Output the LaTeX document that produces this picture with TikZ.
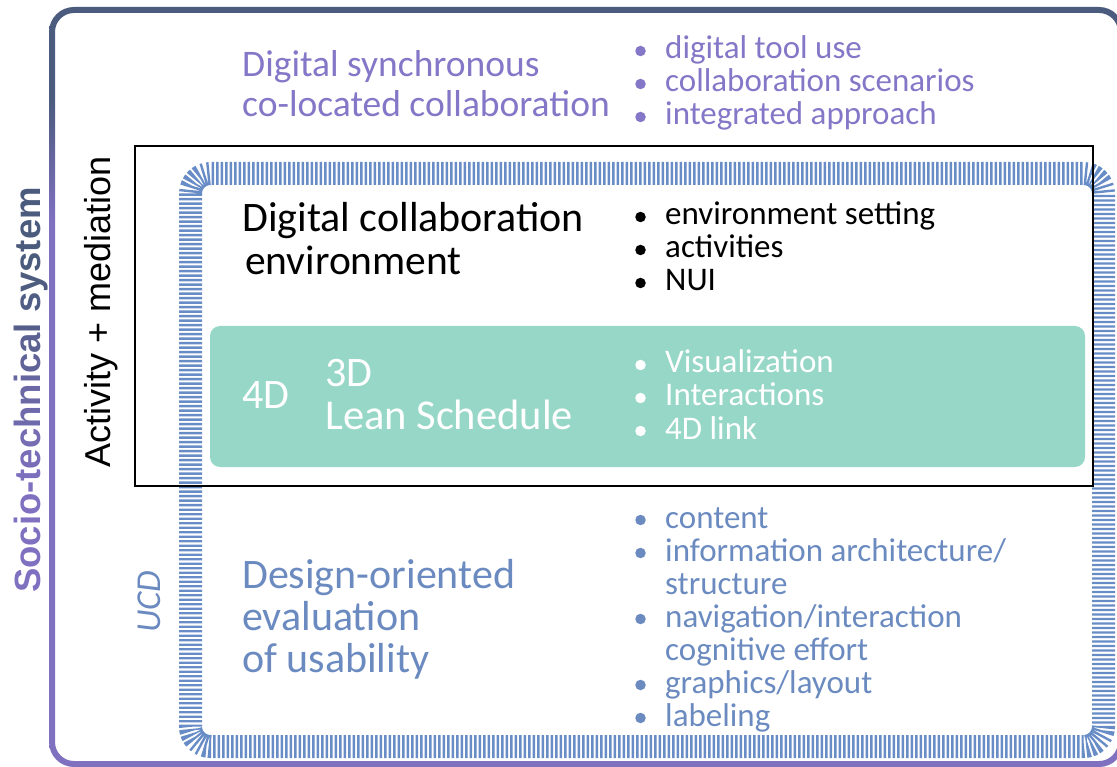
\documentclass[tikz,border=0pt]{standalone}
\usepackage{fontspec}
\setmainfont{Carlito}
\newfontfamily\arialf{Liberation Sans}
\definecolor{fsl}{RGB}{75,91,125}
\definecolor{fpu}{RGB}{127,112,192}
\definecolor{tpu}{RGB}{133,119,199}
\definecolor{tbl}{RGB}{107,139,192}
\definecolor{hbl}{RGB}{104,140,198}
\definecolor{tealbox}{RGB}{151,215,199}
\pgfdeclareverticalshading{frameshade}{100bp}{color(0bp)=(fpu); color(61bp)=(fpu); color(69bp)=(fsl); color(100bp)=(fsl)}
\newcommand\stl[2]{\textcolor{fpu!#1!fsl}{#2}}
\tikzset{
  head/.style={anchor=base west, inner sep=0pt},
  bl/.style={anchor=base west, inner sep=0pt, font=\fontsize{33}{33}\selectfont},
  dot/.style={circle, inner sep=0pt, minimum size=10.5pt},
  hatch/.style={draw=hbl, line width=23pt, dash pattern=on 2.4pt off 2.1pt},
  pur/.style={font=\fontsize{37.5}{42}\selectfont, text=tpu},
}
\begin{document}
\begin{tikzpicture}[x=1pt,y=-1pt]
\useasboundingbox (0,0) rectangle (1117,767);
% outer frame with gradient
\shade[shading=frameshade, even odd rule] [rounded corners=25] (49,7) rectangle (1124,767) [rounded corners=19] (55,13) rectangle (1118,761);
% hatched band
\draw[hatch] [rounded corners=20] (190.5,173.5) rectangle (1103.5,746.5);
% black rectangle
\draw[line width=2pt] (135,146) rectangle (1093,486);
% teal box
\node[fill=tealbox, rounded corners=10, minimum width=875, minimum height=141, inner sep=0pt] (lean) at (647.5,396.5) {};

% side labels
\node[rotate=90, anchor=base west, inner sep=0pt, font=\arialf\bfseries\fontsize{36.5}{40}\selectfont] (stsys) at (40,593)
 {\stl{100}{S}\stl{100}{o}\stl{100}{c}\stl{100}{i}\stl{100}{o}\stl{100}{-}\stl{95}{t}\stl{88}{e}\stl{80}{c}\stl{70}{h}\stl{60}{n}\stl{50}{i}\stl{40}{c}\stl{30}{a}\stl{20}{l} \stl{10}{s}\stl{5}{y}\stl{0}{s}\stl{0}{t}\stl{0}{e}\stl{0}{m}};
\node[rotate=90, anchor=base west, inner sep=0pt, font=\arialf\fontsize{36}{40}\selectfont] (act) at (110,468) {Activity + mediation};
\node[rotate=90, anchor=base west, inner sep=0pt, font=\itshape\fontsize{35}{40}\selectfont, text=tbl] (ucd) at (160,633) {UCD};

% purple section
\node[head, pur] (p1) at (242,77) {Digital synchronous};
\node[head, pur] (p2) at (242,117) {co-located collaboration};
\node[dot, fill=tpu] (pd1) at (640.5,51) {};
\node[bl, text=tpu] (pb1) at (665,59) {digital tool use};
\node[dot, fill=tpu] (pd2) at (640.5,84) {};
\node[bl, text=tpu] (pb2) at (665,92) {collaboration scenarios};
\node[dot, fill=tpu] (pd3) at (640.5,117) {};
\node[bl, text=tpu] (pb3) at (665,125) {integrated approach};

% black section
\node[head, font=\fontsize{42}{42}\selectfont] (k1) at (242,232) {Digital collaboration};
\node[head, font=\fontsize{41.5}{42}\selectfont] (k2) at (245,275) {environment};
\node[dot, fill=black] (kd1) at (640.5,217) {};
\node[bl] (kb1) at (665,225) {environment setting};
\node[dot, fill=black] (kd2) at (640.5,250) {};
\node[bl] (kb2) at (665,258) {activities};
\node[dot, fill=black] (kd3) at (640.5,283) {};
\node[bl] (kb3) at (665,291) {NUI};

% teal section
\node[head, font=\fontsize{42}{42}\selectfont, text=white] (w4d) at (242,408) {4D};
\node[head, font=\fontsize{42}{42}\selectfont, text=white] (w3d) at (325,387) {3D};
\node[head, font=\fontsize{42.5}{42}\selectfont, text=white] (wls) at (325,429) {Lean Schedule};
\node[dot, fill=white] (wd1) at (640.5,365) {};
\node[bl, text=white] (wb1) at (665,373) {Visualization};
\node[dot, fill=white] (wd2) at (640.5,398) {};
\node[bl, text=white] (wb2) at (665,406) {Interactions};
\node[dot, fill=white] (wd3) at (640.5,431) {};
\node[bl, text=white] (wb3) at (665,439) {4D link};

% blue section
\node[head, font=\fontsize{42}{42}\selectfont, text=tbl] (u1) at (242,588) {Design-oriented};
\node[head, font=\fontsize{42}{42}\selectfont, text=tbl] (u2) at (242,630) {evaluation};
\node[head, font=\fontsize{42}{42}\selectfont, text=tbl] (u3) at (242,672) {of usability};
\node[dot, fill=tbl] (ud1) at (640.5,520) {};
\node[bl, text=tbl] (ub1) at (665,528) {content};
\node[dot, fill=tbl] (ud2) at (640.5,553) {};
\node[bl, text=tbl] (ub2) at (665,561) {information architecture/};
\node[bl, text=tbl] (ub3) at (665,594) {structure};
\node[dot, fill=tbl] (ud4) at (640.5,619) {};
\node[bl, text=tbl] (ub4) at (665,627) {navigation/interaction};
\node[bl, text=tbl] (ub5) at (665,660) {cognitive effort};
\node[dot, fill=tbl] (ud6) at (640.5,685) {};
\node[bl, text=tbl] (ub6) at (665,693) {graphics/layout};
\node[dot, fill=tbl] (ud7) at (640.5,718) {};
\node[bl, text=tbl] (ub7) at (665,726) {labeling};
\end{tikzpicture}
\end{document}
